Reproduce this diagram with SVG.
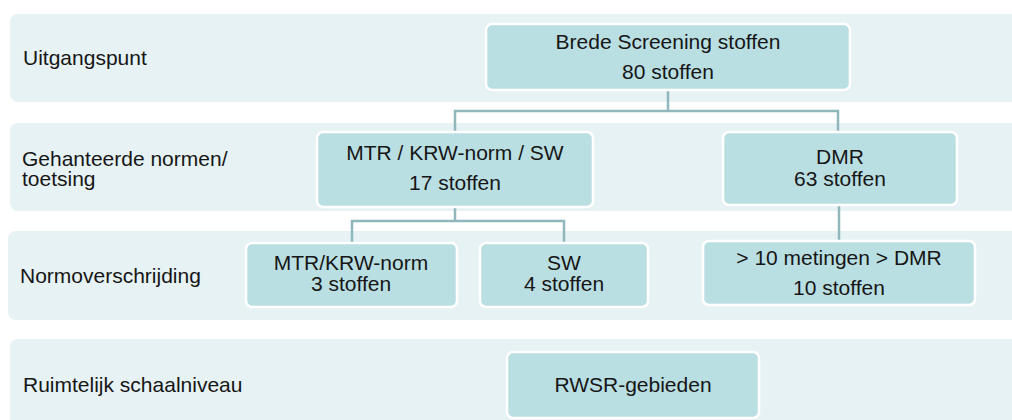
<svg xmlns="http://www.w3.org/2000/svg" width="1012" height="420" viewBox="0 0 1012 420">
<style>
.band{fill:#e6f2f4}
.node{fill:#badfe3;stroke:#ffffff;stroke-width:2.5}
.conn{fill:none;stroke:#90b8bc;stroke-width:2.5}
text{font-family:"Liberation Sans",Arial,sans-serif;font-size:21px;fill:#161616}
.c{text-anchor:middle}
</style>
<rect width="1012" height="420" fill="#ffffff"/>
<g id="bands">
<rect class="band" x="10" y="14" width="1010" height="88" rx="8"/>
<rect class="band" x="10" y="123" width="1010" height="88" rx="8"/>
<rect class="band" x="8" y="231" width="1012" height="89" rx="8"/>
<rect class="band" x="10" y="339" width="1010" height="90" rx="8"/>
<text x="23" y="65">Uitgangspunt</text>
<text x="22" y="166">Gehanteerde normen/</text>
<text x="22" y="186">toetsing</text>
<text x="20" y="283">Normoverschrijding</text>
<text x="23" y="392">Ruimtelijk schaalniveau</text>
</g>
<g id="connectors">
<path class="conn" d="M668 90V111M455 132V111H838V132"/>
<path class="conn" d="M455 207V221M352 243V221H564V243"/>
<path class="conn" d="M839 205V241"/>
</g>
<g id="n-brede">
<rect class="node" x="486" y="24" width="364" height="66" rx="6"/>
<text class="c" x="668" y="49">Brede Screening stoffen</text>
<text class="c" x="668" y="79">80 stoffen</text>
</g>
<g id="n-mtr">
<rect class="node" x="317" y="132" width="276" height="75" rx="6"/>
<text class="c" x="455" y="160">MTR / KRW-norm / SW</text>
<text class="c" x="455" y="190">17 stoffen</text>
</g>
<g id="n-dmr">
<rect class="node" x="723" y="132" width="234" height="73" rx="6"/>
<text class="c" x="840" y="164">DMR</text>
<text class="c" x="840" y="186">63 stoffen</text>
</g>
<g id="n-mtrkrw">
<rect class="node" x="246" y="243" width="211" height="64" rx="6"/>
<text class="c" x="351" y="270">MTR/KRW-norm</text>
<text class="c" x="351" y="291">3 stoffen</text>
</g>
<g id="n-sw">
<rect class="node" x="480" y="243" width="168" height="64" rx="6"/>
<text class="c" x="564" y="270">SW</text>
<text class="c" x="564" y="291">4 stoffen</text>
</g>
<g id="n-10metingen">
<rect class="node" x="703" y="241" width="272" height="64" rx="6"/>
<text class="c" x="839" y="265">&gt; 10 metingen &gt; DMR</text>
<text class="c" x="839" y="295">10 stoffen</text>
</g>
<g id="n-rwsr">
<rect class="node" x="507" y="352" width="252" height="66" rx="6"/>
<text class="c" x="633" y="392">RWSR-gebieden</text>
</g>
</svg>
